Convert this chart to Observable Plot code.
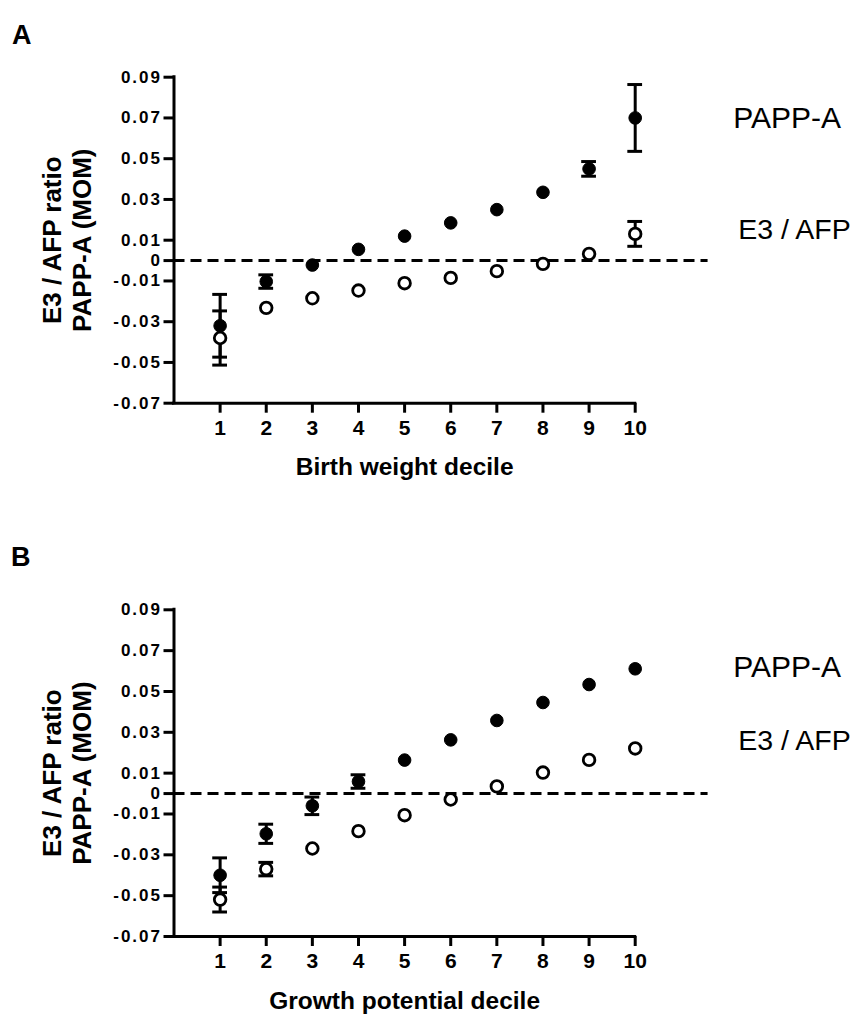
<!DOCTYPE html>
<html>
<head>
<meta charset="utf-8">
<script src="https://cdn.jsdelivr.net/npm/d3@7"></script>
<script src="https://cdn.jsdelivr.net/npm/@observablehq/plot@0.6"></script>
<style>
  html, body { margin: 0; padding: 0; background: #fff; }
  #chart svg { display: block; }
</style>
</head>
<body>
<div id="chart"></div>
<script>
// ---- data ----
const deciles = [1, 2, 3, 4, 5, 6, 7, 8, 9, 10];
const yTicks = [0.09, 0.07, 0.05, 0.03, 0.01, 0, -0.01, -0.03, -0.05, -0.07];

// Panel A: Birth weight decile
const pappA_A    = [-0.032, -0.0103, -0.0022, 0.0055, 0.012, 0.0185, 0.025, 0.0335, 0.045, 0.070];
const pappAErr_A = [0.0154, 0.0033, 0, 0, 0, 0, 0, 0, 0.0036, 0.0164];
const e3afp_A    = [-0.038, -0.0232, -0.0185, -0.0147, -0.0111, -0.0085, -0.0052, -0.0016, 0.0033, 0.0131];
const e3afpErr_A = [0.0133, 0, 0, 0, 0, 0, 0, 0, 0, 0.0061];

// Panel B: Growth potential decile
const pappA_B    = [-0.040, -0.0197, -0.006, 0.0059, 0.0164, 0.0263, 0.0358, 0.0446, 0.0534, 0.0611];
const pappAErr_B = [0.0085, 0.0047, 0.0043, 0.0033, 0, 0, 0, 0, 0, 0];
const e3afp_B    = [-0.0519, -0.037, -0.0269, -0.0184, -0.0106, -0.0029, 0.0035, 0.0103, 0.0165, 0.0221];
const e3afpErr_B = [0.0061, 0.0033, 0, 0, 0, 0, 0, 0, 0, 0];

const seriesNames = ["PAPP-A", "E3 / AFP"];
const yTitle = ["E3 / AFP ratio", "PAPP-A (MOM)"];

const FONT = "'Liberation Sans', Arial, Helvetica, sans-serif";

function rows(values, errs) {
  return deciles.map((d, i) => ({x: d, v: values[i], e: errs[i]}));
}

function errorMarks(data) {
  const withErr = data.filter(d => d.e > 0);
  return [
    Plot.ruleX(withErr, {x: "x", y1: d => d.v - d.e, y2: d => d.v + d.e, stroke: "#000", strokeWidth: 3}),
    Plot.ruleY(withErr, {y: d => d.v + d.e, x1: d => d.x - 0.16, x2: d => d.x + 0.16, stroke: "#000", strokeWidth: 3}),
    Plot.ruleY(withErr, {y: d => d.v - d.e, x1: d => d.x - 0.16, x2: d => d.x + 0.16, stroke: "#000", strokeWidth: 3})
  ];
}

function panel(o) {
  const papp = rows(o.papp, o.pappErr);
  const e3 = rows(o.e3, o.e3Err);
  const svg = Plot.plot({
    width: 862,
    height: o.height,
    marginTop: o.marginTop,
    marginBottom: o.marginBottom,
    marginLeft: 173.5,
    marginRight: 227.3,
    style: {fontFamily: FONT, fontWeight: "bold", color: "#000", background: "#fff", overflow: "visible"},
    x: {domain: [0, 10]},
    y: {domain: [-0.07, 0.09]},
    marks: [
      // zero reference line
      Plot.ruleY([0], {x1: 0, x2: 11.58, stroke: "#000", strokeWidth: 3, strokeDasharray: "11,6"}),
      // axis lines
      Plot.ruleX([0], {y1: -0.07, y2: 0.09, stroke: "#000", strokeWidth: 3, strokeLinecap: "square"}),
      Plot.ruleY([-0.07], {x1: 0, x2: 10, stroke: "#000", strokeWidth: 3, strokeLinecap: "square"}),
      Plot.axisY({ticks: yTicks, tickSize: 10, tickPadding: 2, strokeWidth: 3,
        tickFormat: d => d === 0 ? "0" : d.toFixed(2), fontSize: 17, fontWeight: "bold", label: null}),
      Plot.axisX({ticks: deciles, tickSize: 10, tickPadding: 7, strokeWidth: 3,
        tickFormat: d => String(d), fontSize: 21, fontWeight: "bold", label: null}),
      // series
      ...errorMarks(papp),
      Plot.dot(papp, {x: "x", y: "v", r: 6.3, fill: "#000", stroke: "#000", strokeWidth: 1}),
      ...errorMarks(e3),
      Plot.dot(e3, {x: "x", y: "v", r: 5.8, fill: "#fff", stroke: "#000", strokeWidth: 2.8}),
      // series labels
      Plot.text([seriesNames[0]], {x: 10, y: o.pappLabelY, dx: 98, textAnchor: "start",
        fontSize: 30, fontWeight: "normal"}),
      Plot.text([seriesNames[1]], {x: 10, y: o.e3LabelY, dx: 103, textAnchor: "start",
        fontSize: 28.5, fontWeight: "normal"}),
      // y axis title (two lines)
      Plot.text([yTitle[0]], {frameAnchor: "left", textAnchor: "middle", rotate: -90, dx: -121.5,
        fontSize: 26, fontWeight: "bold", ariaLabel: "y-title"}),
      Plot.text([yTitle[1]], {frameAnchor: "left", textAnchor: "middle", rotate: -90, dx: -91.5,
        fontSize: 26, fontWeight: "bold", ariaLabel: "y-title"}),
      // x axis title
      Plot.text([o.xTitle], {frameAnchor: "bottom", dy: 72, fontSize: 24.5, fontWeight: "bold"}),
      // panel letter
      Plot.text([o.letter], {frameAnchor: "top-left", dx: o.letterDx, dy: o.letterDy, textAnchor: "start",
        fontSize: 27, fontWeight: "bold"})
    ]
  });
  d3.select(svg).selectAll("g[aria-label='y-title'] text").style("letter-spacing", "1.2px");
  d3.select(svg).selectAll("g[aria-label='y-axis tick label'] text").style("letter-spacing", "2px");
  return svg;
}

const chart = document.getElementById("chart");
chart.append(panel({
  letter: "A", xTitle: "Birth weight decile",
  papp: pappA_A, pappErr: pappAErr_A, e3: e3afp_A, e3Err: e3afpErr_A,
  height: 510, marginTop: 76.7, marginBottom: 107.3,
  pappLabelY: 0.0697, e3LabelY: 0.0153,
  letterDx: -162, letterDy: -52.7
}));
chart.append(panel({
  letter: "B", xTitle: "Growth potential decile",
  papp: pappA_B, pappErr: pappAErr_B, e3: e3afp_B, e3Err: e3afpErr_B,
  height: 506, marginTop: 99.3, marginBottom: 80,
  pappLabelY: 0.0617, e3LabelY: 0.026,
  letterDx: -163, letterDy: -62.8
}));
</script>
</body>
</html>
